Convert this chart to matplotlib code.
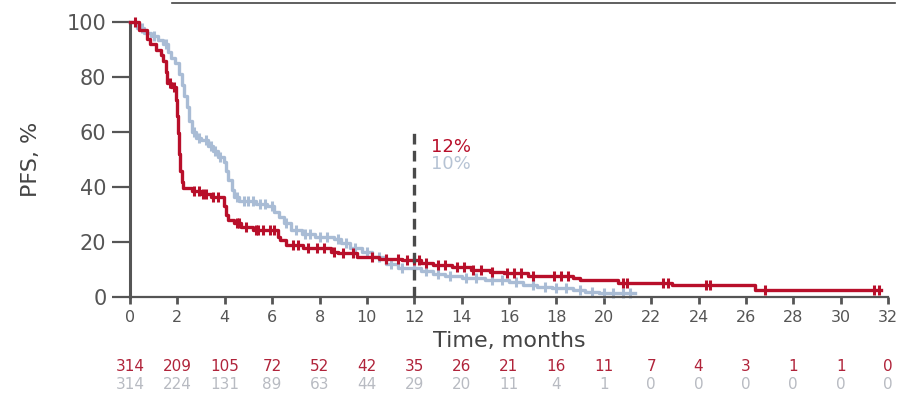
import numpy as np
import matplotlib
matplotlib.use("Agg")
import matplotlib.pyplot as plt
from matplotlib.lines import Line2D

# Kaplan-Meier step points (time in months, PFS %)
red_t = [0, 0.4, 0.7, 0.85, 1.1, 1.3, 1.4, 1.5, 1.55, 1.75, 1.95, 2.0, 2.03, 2.07,
         2.1, 2.18, 2.25, 2.6, 3.0, 3.4, 3.95, 4.05, 4.15, 4.4, 4.7, 5.2, 6.25, 6.35,
         6.6, 7.3, 8.5, 8.8, 9.6, 10.5, 11.5, 12.3, 12.8, 13.6, 14.4, 15.2, 15.8,
         16.8, 18.7, 19.0, 20.6, 22.9, 26.4, 31.7]
red_s = [100, 97, 94, 92, 90, 88, 86, 82, 78, 76.5, 71.6, 66, 59.6, 52,
         46, 42, 39.6, 38.5, 37.5, 36.5, 33, 30, 28, 27, 25.6, 24.4, 22, 20.7,
         19, 17.7, 16.5, 15.9, 14.7, 14, 13.5, 12.5, 11.6, 10.8, 10, 9, 8.6,
         7.6, 6.8, 6.2, 5.0, 4.4, 2.5, 2.5]

blue_t = [0, 0.3, 0.6, 0.9, 1.2, 1.4, 1.6, 1.75, 1.9, 2.05, 2.2, 2.3, 2.4, 2.5,
          2.6, 2.8, 3.0, 3.3, 3.5, 3.7, 3.95, 4.05, 4.15, 4.3, 4.4, 4.6, 5.3, 5.8,
          6.1, 6.3, 6.5, 6.8, 7.25, 7.8, 8.6, 8.9, 9.3, 9.8, 10.2, 10.8, 11.3, 12.3,
          12.8, 13.3, 14.0, 15.0, 16.0, 16.6, 17.2, 17.8, 18.7, 19.2, 19.8, 21.3]
blue_s = [100, 98, 96, 95, 93.5, 92, 89, 87, 85, 81, 77, 73, 69, 64,
          60, 58, 57, 55, 53, 51, 49, 46, 42.5, 39, 36.5, 35, 34, 33,
          31, 29, 27, 24.5, 23, 22, 21, 19.5, 18, 16.5, 14.5, 12, 10.5, 9.5,
          8.5, 7.8, 7, 6.2, 5.3, 4.3, 3.6, 3.1, 2.4, 1.9, 1.3, 1.3]

# censoring ticks
red_cens = [0.2, 1.7, 1.85, 2.7, 2.9, 3.1, 3.2, 3.5, 3.7, 4.5, 4.6, 4.9, 5.3, 5.4,
            5.6, 5.9, 6.1, 6.9, 7.1, 7.5, 7.9, 8.2, 8.6, 9.0, 9.4, 10.2, 10.8,
            11.3, 11.7, 12.0, 12.2, 12.5, 13.0, 13.3, 13.8, 14.1, 14.5, 14.8,
            15.3, 15.9, 16.2, 16.5, 17.0, 17.9, 18.2, 18.5, 20.8, 21.0, 22.5,
            22.7, 24.3, 24.5, 26.8, 31.4, 31.6]
blue_cens = [0.5, 1.0, 1.5, 2.7, 2.9, 3.2, 3.4, 3.6, 3.8, 4.5, 4.8, 5.0, 5.2, 5.5,
             5.7, 6.0, 6.6, 7.0, 7.4, 7.6, 8.0, 8.3, 8.8, 9.1, 9.5, 10.0, 10.5,
             11.0, 11.5, 12.0, 12.5, 13.0, 13.5, 14.2, 14.6, 15.3, 15.7, 16.3,
             17.0, 17.5, 18.0, 18.4, 19.0, 19.5, 20.0, 20.4, 20.8, 21.1]

months = list(range(0, 33, 2))
risk_red = [314, 209, 105, 72, 52, 42, 35, 26, 21, 16, 11, 7, 4, 3, 1, 1, 0]
risk_blue = [314, 224, 131, 89, 63, 44, 29, 20, 11, 4, 1, 0, 0, 0, 0, 0, 0]

RED = "#B80F2A"
BLUE = "#A9BCD5"
GREY = "#555555"

plt.rcParams["font.family"] = ["DejaVu Sans"]

fig = plt.figure(figsize=(9.11, 3.96), dpi=100)
ax = fig.add_axes([130 / 911, 0.25, (888 - 130) / 911, 0.6944])


def step_at(t, s, c):
    t = np.asarray(t)
    s = np.asarray(s)
    idx = np.searchsorted(t, c, side="right") - 1
    return s[idx]


ax.step(blue_t, blue_s, where="post", color=BLUE, lw=2.4, clip_on=False, zorder=2)
ax.plot(blue_cens, step_at(blue_t, blue_s, blue_cens), ls="none", marker="|",
        ms=6.5, mew=2.2, color=BLUE, clip_on=False, zorder=2)
ax.step(red_t, red_s, where="post", color=RED, lw=2.4, clip_on=False, zorder=3)
ax.plot(red_cens, step_at(red_t, red_s, red_cens), ls="none", marker="|",
        ms=6.5, mew=2.2, color=RED, clip_on=False, zorder=3)

# 12-month landmark
ax.plot([12, 12], [0, 60], color="#4a4a4a", lw=2.4, ls=(0, (3.2, 1.9)), zorder=4,
        clip_on=False)
ax.text(12.7, 54.5, "12%", color=RED, fontsize=13, va="center")
ax.text(12.7, 48.5, "10%", color="#B6C3D4", fontsize=13, va="center")

ax.set_xlim(0, 32)
ax.set_ylim(0, 100)
ax.set_xticks(months)
ax.set_yticks([0, 20, 40, 60, 80, 100])
for side in ["top", "right"]:
    ax.spines[side].set_visible(False)
ax.spines["left"].set_linewidth(2.2)
ax.spines["bottom"].set_linewidth(1.6)
ax.spines["left"].set_color(GREY)
ax.spines["bottom"].set_color(GREY)
ax.tick_params(axis="y", length=13, width=1.6, color=GREY, labelcolor=GREY,
               labelsize=15, pad=4, direction="out")
ax.tick_params(axis="x", length=5, width=2, color=GREY, labelcolor=GREY,
               labelsize=11.5, pad=4, direction="out")

ax.set_xlabel("Time, months", fontsize=16, color="#444444")
ax.xaxis.set_label_coords(0.5, -0.122)
ax.set_ylabel("PFS, %", fontsize=16, color="#444444")
ax.yaxis.set_label_coords(-0.118, 0.5)

# numbers at risk
tr = ax.get_xaxis_transform()
for m, a, b in zip(months, risk_red, risk_blue):
    ax.text(m, -0.251, str(a), transform=tr, ha="center", va="center",
            fontsize=11, color="#B0233A", clip_on=False)
    ax.text(m, -0.318, str(b), transform=tr, ha="center", va="center",
            fontsize=11, color="#B8BBC2", clip_on=False)

# thin rule across the top
fig.add_artist(Line2D([172 / 911, 895 / 911], [1 - 3 / 396, 1 - 3 / 396],
                      transform=fig.transFigure, color="#444444", lw=1.2))

fig.savefig("out.png", dpi=100)
